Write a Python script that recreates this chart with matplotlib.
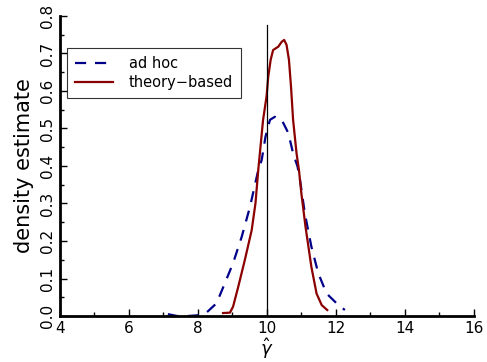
import matplotlib
matplotlib.use("Agg")
import matplotlib.pyplot as plt
from matplotlib.ticker import MultipleLocator, FormatStrFormatter

# ad hoc (blue dashed)
adhoc_x = [7.13, 7.4, 7.7, 8.0, 8.26, 8.54, 8.78, 9.02, 9.27, 9.51, 9.75, 9.85, 9.96, 10.09, 10.23, 10.43, 10.62, 10.76, 10.89, 10.96, 11.1, 11.29, 11.49, 11.73, 12.02, 12.26]
adhoc_y = [0.005, 0.0, 0.0, 0.002, 0.01, 0.034, 0.087, 0.141, 0.211, 0.291, 0.389, 0.416, 0.478, 0.523, 0.531, 0.523, 0.488, 0.434, 0.398, 0.363, 0.274, 0.185, 0.114, 0.06, 0.034, 0.016]

# theory-based (red solid)
theory_x = [8.73, 8.93, 9.02, 9.17, 9.36, 9.56, 9.67, 9.75, 9.89, 9.99, 10.04, 10.11, 10.18, 10.33, 10.43, 10.5, 10.57, 10.64, 10.7, 10.76, 10.86, 10.93, 11.0, 11.12, 11.29, 11.44, 11.59, 11.75]
theory_y = [0.008, 0.009, 0.025, 0.078, 0.149, 0.229, 0.301, 0.389, 0.523, 0.585, 0.638, 0.683, 0.709, 0.718, 0.731, 0.736, 0.723, 0.683, 0.611, 0.523, 0.434, 0.389, 0.327, 0.238, 0.131, 0.06, 0.029, 0.016]

true_value = 10.0

plt.rcParams['font.family'] = ['DejaVu Sans']
fig = plt.figure(figsize=(4.87, 3.62), dpi=100)
ax = fig.add_axes([0.123, 0.127, 0.850, 0.829])

ax.plot(adhoc_x, adhoc_y, color='#00008b', lw=1.6, ls=(0, (5, 4)), label='ad hoc',
        solid_joinstyle='round')
ax.plot(theory_x, theory_y, color='#8b0000', lw=1.6, label='theory\u2212based',
        solid_joinstyle='round')
ax.plot([true_value, true_value], [0, 0.775], color='black', lw=0.9)

ax.set_xlim(4, 16)
ax.set_ylim(0, 0.8)
ax.xaxis.set_major_locator(MultipleLocator(2))
ax.xaxis.set_minor_locator(MultipleLocator(1))
ax.yaxis.set_major_locator(MultipleLocator(0.1))
ax.yaxis.set_minor_locator(MultipleLocator(0.05))
ax.yaxis.set_major_formatter(FormatStrFormatter('%.1f'))

for s in ['top', 'right']:
    ax.spines[s].set_visible(False)
for s in ['left', 'bottom']:
    ax.spines[s].set_linewidth(2)

ax.tick_params(which='major', direction='in', length=5, width=1, labelsize=11)
ax.tick_params(which='minor', direction='in', length=3, width=1)
for lab in ax.get_yticklabels():
    lab.set_rotation(90)
    lab.set_va('center')

ax.set_ylabel('density estimate', fontsize=15, labelpad=4)
ax.set_xlabel(r'$\hat{\gamma}$', fontsize=13, labelpad=0)

leg = ax.legend(loc='upper left', bbox_to_anchor=(0.017, 0.893), borderaxespad=0,
                fontsize=10.5, frameon=True, fancybox=False, edgecolor='black',
                handlelength=2.6, borderpad=0.55, labelspacing=0.3, handletextpad=1.1)
leg.get_frame().set_linewidth(0.8)

fig.savefig('out.png', dpi=100)
